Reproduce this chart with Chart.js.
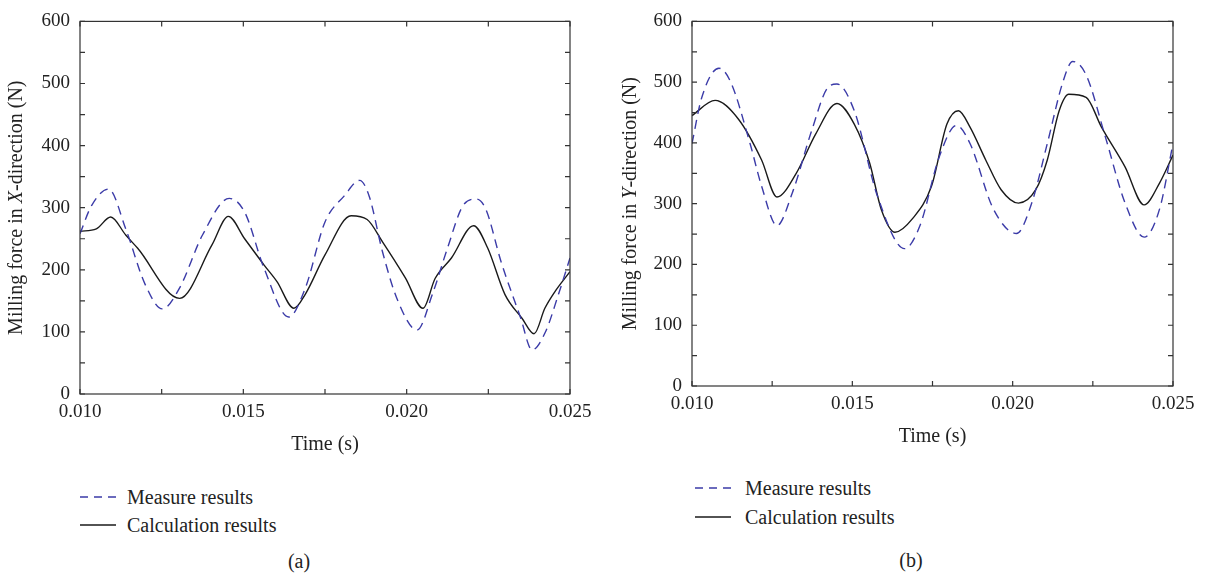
<!DOCTYPE html>
<html>
<head>
<meta charset="utf-8">
<script src="https://cdn.jsdelivr.net/npm/chart.js@4/dist/chart.umd.min.js"></script>
<style>
  body { margin: 0; background: #fff; font-family: "Liberation Serif", serif; color: #222; }
  #page { position: relative; width: 1205px; height: 578px; overflow: hidden; }
  .box { position: absolute; top: 0; }
  .lg { position: absolute; font-size: 20px; line-height: 24px; height: 24px; white-space: nowrap; }
  .lg svg { position: absolute; left: 0; top: 0; }
  .lg span { position: absolute; white-space: nowrap; }
  .cap { position: absolute; font-size: 20px; transform: translateX(-50%); }
</style>
</head>
<body>
<div id="page">
  <div class="box" style="left:0"><canvas id="chartA" width="600" height="470"></canvas></div>
  <div class="box" style="left:600px"><canvas id="chartB" width="605" height="470"></canvas></div>

  <div class="lg" style="left:80px; top:485px;">
    <svg width="40" height="24"><line x1="0" y1="12" x2="36" y2="12" stroke="#3b3ba8" stroke-width="1.4" stroke-dasharray="8,6"/></svg>
    <span style="left:47px">Measure results</span>
  </div>
  <div class="lg" style="left:80px; top:513px;">
    <svg width="40" height="24"><line x1="0" y1="12" x2="36" y2="12" stroke="#1a1a1a" stroke-width="1.4"/></svg>
    <span style="left:47px">Calculation results</span>
  </div>
  <div class="lg" style="left:695px; top:476px;">
    <svg width="40" height="24"><line x1="0" y1="12" x2="36" y2="12" stroke="#3b3ba8" stroke-width="1.4" stroke-dasharray="8,6"/></svg>
    <span style="left:50px">Measure results</span>
  </div>
  <div class="lg" style="left:695px; top:505px;">
    <svg width="40" height="24"><line x1="0" y1="12" x2="36" y2="12" stroke="#1a1a1a" stroke-width="1.4"/></svg>
    <span style="left:50px">Calculation results</span>
  </div>
  <div class="cap" style="left:299px; top:550px;">(a)</div>
  <div class="cap" style="left:911px; top:549px;">(b)</div>
</div>

<script>
// ---- data ----
// (a) X-direction
const timeMeasA = [0.0100, 0.01035, 0.01088, 0.0114, 0.01199, 0.01252, 0.01305, 0.01375, 0.01457, 0.01504, 0.01563, 0.01639, 0.0169, 0.0175, 0.01809, 0.01856, 0.01885, 0.01926, 0.01973, 0.02032, 0.02079, 0.02125, 0.02172, 0.02213, 0.02242, 0.02289, 0.02348, 0.02384, 0.02424, 0.02465, 0.0250];
const measureA  = [258, 303, 330, 266, 177, 137, 171, 256, 315, 293, 203, 124, 171, 277, 319, 344, 319, 229, 150, 103, 161, 235, 303, 314, 298, 213, 124, 71, 99, 161, 219];
const timeCalcA = [0.0100, 0.0105, 0.01094, 0.0114, 0.01176, 0.01305, 0.01404, 0.01454, 0.01504, 0.01563, 0.01603, 0.01655, 0.0169, 0.0175, 0.0183, 0.01879, 0.01926, 0.01996, 0.0205, 0.02087, 0.02137, 0.02205, 0.02248, 0.02301, 0.02353, 0.0239, 0.02423, 0.02454, 0.0250];
const calcA     = [262, 266, 285, 256, 235, 154, 240, 286, 250, 208, 181, 138, 161, 224, 287, 281, 245, 187, 138, 186, 219, 271, 235, 160, 122, 97, 138, 165, 197];

// (b) Y-direction
const timeMeasB = [0.0100, 0.0103, 0.01084, 0.0112, 0.01181, 0.01217, 0.01265, 0.01313, 0.01373, 0.01422, 0.01452, 0.01506, 0.01578, 0.01663, 0.01711, 0.01771, 0.01825, 0.01867, 0.0194, 0.02012, 0.0206, 0.02108, 0.02157, 0.02187, 0.02229, 0.02289, 0.0235, 0.0241, 0.02458, 0.0250];
const measureB  = [399, 474, 523, 501, 399, 329, 264, 318, 420, 490, 497, 453, 313, 226, 264, 377, 429, 399, 291, 251, 302, 399, 501, 534, 512, 410, 302, 245, 291, 399];
const timeCalcB = [0.0100, 0.01072, 0.01145, 0.01217, 0.01265, 0.01325, 0.01386, 0.01452, 0.01506, 0.01554, 0.0159, 0.01633, 0.01687, 0.01747, 0.01795, 0.01831, 0.01867, 0.01916, 0.01964, 0.02018, 0.02072, 0.02108, 0.02145, 0.02175, 0.02229, 0.02277, 0.0235, 0.0241, 0.02458, 0.0250];
const calcB     = [445, 470, 439, 372, 311, 350, 415, 465, 431, 367, 291, 253, 275, 329, 431, 453, 426, 372, 323, 301, 323, 372, 453, 480, 475, 426, 361, 298, 334, 380];

const xTickLabels = ['0.010', '0.015', '0.020', '0.025'];
const yTickLabels = ['0', '100', '200', '300', '400', '500', '600'];

const FONT = '"Liberation Serif", serif';
const MEAS_COLOR = '#3b3ba8';
const CALC_COLOR = '#1a1a1a';

function pts(xs, ys) {
    return xs.map((t, i) => ({ x: t, y: ys[i] }));
}

// frame, inward ticks on all four sides, axis titles
const framePlugin = {
    id: 'frame',
    afterDraw(chart, args, opts) {
        const { ctx, chartArea: a } = chart;
        const x = chart.scales.x, y = chart.scales.y;
        ctx.save();
        ctx.strokeStyle = '#333';
        ctx.lineWidth = 1.2;
        ctx.strokeRect(a.left, a.top, a.right - a.left, a.bottom - a.top);
        ctx.beginPath();
        x.ticks.forEach(t => {
            const px = x.getPixelForValue(t.value);
            ctx.moveTo(px, a.bottom); ctx.lineTo(px, a.bottom - 5);
            ctx.moveTo(px, a.top); ctx.lineTo(px, a.top + 5);
        });
        y.ticks.forEach(t => {
            const py = y.getPixelForValue(t.value);
            ctx.moveTo(a.left, py); ctx.lineTo(a.left + 5, py);
            ctx.moveTo(a.right, py); ctx.lineTo(a.right - 5, py);
        });
        ctx.stroke();

        // x title
        ctx.fillStyle = '#222';
        ctx.font = '20px ' + FONT;
        ctx.textAlign = 'center';
        ctx.textBaseline = 'middle';
        ctx.fillText('Time (s)', (a.left + a.right) / 2, opts.xTitleY);

        // y title with italic axis letter
        const parts = [
            ['Milling force in ', false],
            [opts.letter, true],
            ['-direction (N)', false]
        ];
        ctx.translate(opts.yTitleX, (a.top + a.bottom) / 2);
        ctx.rotate(-Math.PI / 2);
        ctx.textAlign = 'left';
        let total = 0;
        parts.forEach(p => {
            ctx.font = (p[1] ? 'italic ' : '') + '20px ' + FONT;
            total += ctx.measureText(p[0]).width;
        });
        let cx = -total / 2;
        parts.forEach(p => {
            ctx.font = (p[1] ? 'italic ' : '') + '20px ' + FONT;
            ctx.fillText(p[0], cx, 0);
            cx += ctx.measureText(p[0]).width;
        });
        ctx.restore();
    }
};

function makeChart(id, meas, calc, g) {
    return new Chart(document.getElementById(id), {
        type: 'line',
        data: {
            datasets: [
                {
                    label: 'Measure results',
                    data: meas,
                    borderColor: MEAS_COLOR,
                    borderWidth: 1.4,
                    borderDash: [9, 6],
                    pointRadius: 0,
                    cubicInterpolationMode: 'monotone'
                },
                {
                    label: 'Calculation results',
                    data: calc,
                    borderColor: CALC_COLOR,
                    borderWidth: 1.4,
                    pointRadius: 0,
                    cubicInterpolationMode: 'monotone'
                }
            ]
        },
        options: {
            responsive: false,
            animation: false,
            layout: { padding: { left: 0, top: 16, right: g.right, bottom: 0 } },
            plugins: {
                legend: { display: false },
                tooltip: { enabled: false },
                frame: { letter: g.letter, xTitleY: g.xTitleY, yTitleX: g.yTitleX }
            },
            scales: {
                x: {
                    type: 'linear',
                    min: 0.010,
                    max: 0.025,
                    grid: { display: false, drawTicks: false },
                    border: { display: false },
                    afterFit: s => { s.height = g.xHeight; },
                    ticks: {
                        stepSize: 0.0025,
                        autoSkip: false,
                        maxRotation: 0,
                        padding: 7,
                        color: '#222',
                        font: { family: FONT, size: 19 },
                        callback: v => {
                            const lbl = v.toFixed(3);
                            return xTickLabels.includes(lbl) && Math.round(v * 10000) % 50 === 0 ? lbl : '';
                        }
                    }
                },
                y: {
                    min: 0,
                    max: 600,
                    grid: { display: false, drawTicks: false },
                    border: { display: false },
                    afterFit: s => { s.width = g.yWidth; },
                    ticks: {
                        stepSize: 50,
                        padding: 10,
                        color: '#222',
                        font: { family: FONT, size: 19 },
                        callback: v => yTickLabels.includes(String(v)) ? String(v) : ''
                    }
                }
            }
        },
        plugins: [framePlugin]
    });
}

makeChart('chartA', pts(timeMeasA, measureA), pts(timeCalcA, calcA),
    { letter: 'X', right: 30, yWidth: 80, xHeight: 76, xTitleY: 445, yTitleX: 17 });
makeChart('chartB', pts(timeMeasB, measureB), pts(timeCalcB, calcB),
    { letter: 'Y', right: 32, yWidth: 92, xHeight: 84, xTitleY: 437, yTitleX: 31 });
</script>
</body>
</html>
